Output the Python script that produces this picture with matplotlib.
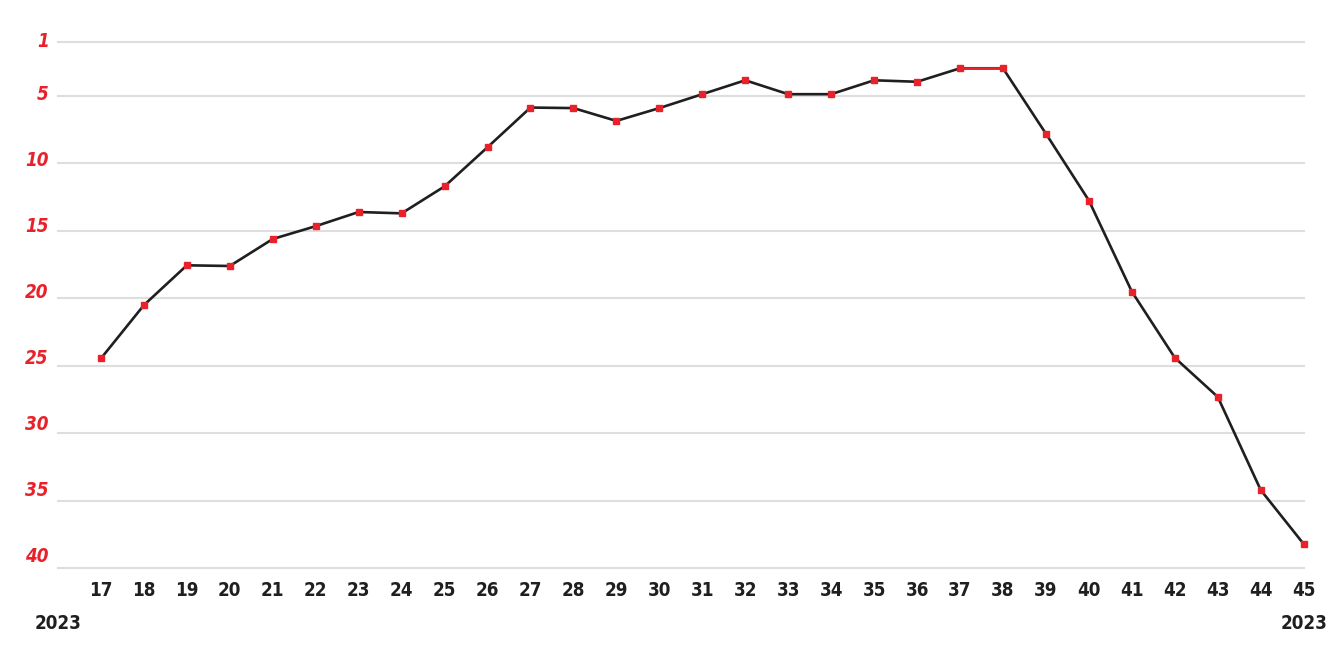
import matplotlib
matplotlib.use("Agg")
import matplotlib.pyplot as plt
from matplotlib import font_manager

# week numbers (2023) and chart position
weeks = list(range(17, 46))
ranks = [24.45, 20.5, 17.55, 17.6, 15.6, 14.65, 13.6, 13.7, 11.7, 8.8,
         5.86, 5.9, 6.85, 5.9, 4.87, 3.84, 4.87, 4.87, 3.84, 3.95,
         2.95, 2.95, 7.8, 12.75, 19.5, 24.4, 27.3, 34.2, 38.2]
ytick_vals = [1, 5, 10, 15, 20, 25, 30, 35, 40]
year_label = "2023"

RED = "#e8212b"
DARK = "#1f1f1f"
GRID = "#dedede"

names = {f.name for f in font_manager.fontManager.ttflist}
if "Liberation Sans Narrow" in names:
    FONT = dict(family="Liberation Sans Narrow", weight="bold")
else:
    FONT = dict(family="DejaVu Sans", stretch="condensed", weight="bold")

fig = plt.figure(figsize=(13.33, 6.66), dpi=100)
ax = fig.add_axes([0.0435, 0.1467, 0.978 - 0.0435, 0.937 - 0.1467])

for v in ytick_vals:
    ax.axhline(v, color=GRID, lw=1.5, zorder=0, clip_on=False)

# black line, red segment where the rank holds at the peak
ax.plot(weeks, ranks, color=DARK, lw=1.9, zorder=2)
i = weeks.index(37)
ax.plot(weeks[i:i + 2], ranks[i:i + 2], color=RED, lw=1.9, zorder=3)
ax.plot(weeks, ranks, ls="none", marker="s", ms=4.5, color=RED, zorder=4,
        clip_on=False)

ax.set_xlim(16, 45)
ax.set_ylim(40, 1)
for s in ax.spines.values():
    s.set_visible(False)
ax.set_xticks([])
ax.set_yticks([])

# y labels sit on a slightly compressed scale relative to the grid
for v in ytick_vals:
    ax.text(-0.0075, 1 - (v - 1) * 0.978 / 39, str(v), transform=ax.transAxes,
            ha="right", va="center", color=RED, fontsize=13.5, style="italic", **FONT)

for w in weeks:
    ax.annotate(str(w), (w, 40), xytext=(0, -22), textcoords="offset pixels",
                ha="center", va="center", fontsize=13.5, color=DARK, **FONT)

for x in (16, 45):
    ax.annotate(year_label, (x, 40), xytext=(0, -55), textcoords="offset pixels",
                ha="center", va="center", fontsize=13.5, color=DARK, **FONT)

fig.savefig("out.png", dpi=100)
